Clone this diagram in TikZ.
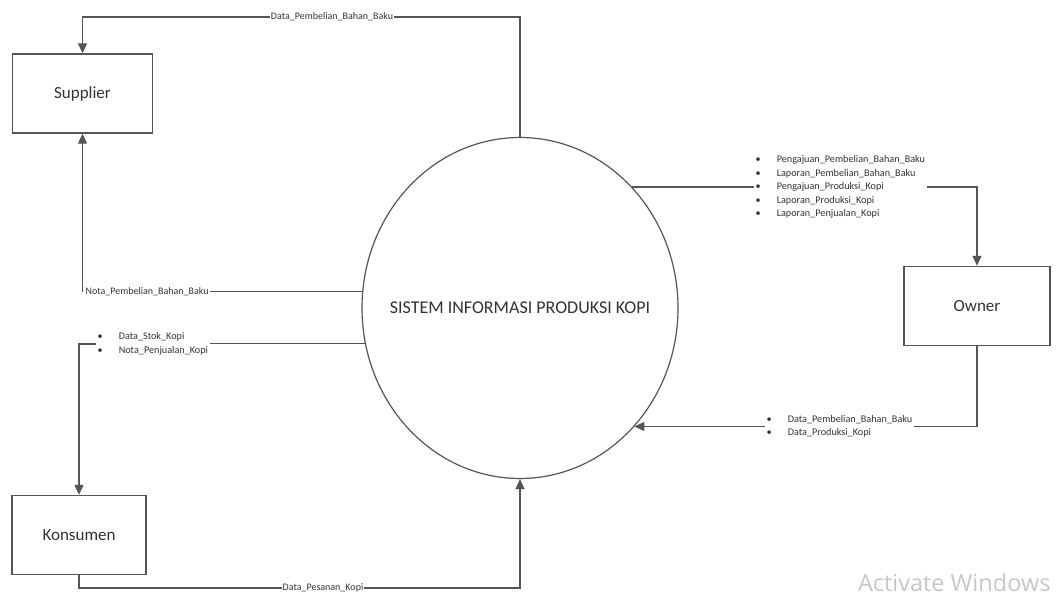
\documentclass[tikz,border=0pt]{standalone}
\usepackage{fontspec}
\setmainfont{Carlito}
\newfontfamily\wmfont{Open Sans}
\usetikzlibrary{shapes.geometric,arrows.meta}
\definecolor{ln}{HTML}{555555}
\definecolor{tx}{HTML}{333333}
\tikzset{
  entity/.style={draw=ln, line width=1.4pt, minimum width=140pt, minimum height=79pt, inner sep=0pt, font=\fontsize{17}{20}\selectfont, text=tx},
  flow/.style={draw=ln, line width=1.2pt, -{Triangle[length=10pt,width=9pt]}},
  plain/.style={draw=ln, line width=1.2pt},
  lbl/.style={fill=white, inner sep=1pt, font=\fontsize{10}{12}\selectfont, text=tx},
  lst/.style={fill=white, inner sep=1.5pt, align=left, font=\fontsize{10.2}{13.5}\selectfont, text=tx},
}
\newcommand{\bl}{\textbullet\hspace{16pt}}
\begin{document}
\begin{tikzpicture}[x=1pt,y=-1pt]
\useasboundingbox (0,0) rectangle (1060,601);
\fill[white] (0,0) rectangle (1060,601);

\node[entity] (s) at (82.5,93.5) {Supplier};
\node[entity, minimum width=134pt] (k) at (79,535) {Konsumen};
\node[entity, minimum width=146pt] (o) at (977,306) {Owner};
\node[draw=ln, line width=1.2pt, ellipse, minimum width=316pt, minimum height=341pt, inner sep=0pt] (c) at (520,308) {};
\node[font=\fontsize{18}{20}\selectfont, text=tx] (ct) at (c.center) {SISTEM INFORMASI PRODUKSI KOPI};

% lists
\node[lst, anchor=west] (ol) at (754,187) {\bl Pengajuan\_Pembelian\_Bahan\_Baku\\\bl Laporan\_Pembelian\_Bahan\_Baku\\\bl Pengajuan\_Produksi\_Kopi\\\bl Laporan\_Produksi\_Kopi\\\bl Laporan\_Penjualan\_Kopi};
\node[lst, anchor=west] (ol2) at (765,426.5) {\bl Data\_Pembelian\_Bahan\_Baku\\\bl Data\_Produksi\_Kopi};
\node[lst, anchor=west] (kl) at (96,344) {\bl Data\_Stok\_Kopi\\\bl Nota\_Penjualan\_Kopi};

% coordinates
\coordinate (top) at (300,17);
\coordinate (bot) at (300,588);

% flows
\draw[flow] (c.north) |- (top) -| (s.north);
\node[lbl] (l1) at (332,17) {Data\_Pembelian\_Bahan\_Baku};

\draw[flow] (c.174) -| (s.south);
\node[lbl, anchor=west] (l2) at (s.south |- c.174) {\hspace{2pt}Nota\_Pembelian\_Bahan\_Baku};

\draw[plain] (c.193) -- (c.193 -| kl.east);
\draw[flow] (kl.west) -| (k.north);
\draw[flow] (k.south) |- (bot) -| (c.south);
\node[lbl] (l3) at (323,588) {Data\_Pesanan\_Kopi};

\draw[plain] (ol.west) -- (ol.west -| c.47.5);
\draw[flow] (ol.east) -| (o.north);

\draw[plain] (o.south) |- (ol2.east);
\draw[flow] (ol2.west) -- (ol2.west -| c.-46.5);

\node[text=black!22, font=\wmfont\fontsize{23.5}{26}\selectfont, anchor=east] (wm) at (1054,583) {Activate Windows};
\end{tikzpicture}
\end{document}
